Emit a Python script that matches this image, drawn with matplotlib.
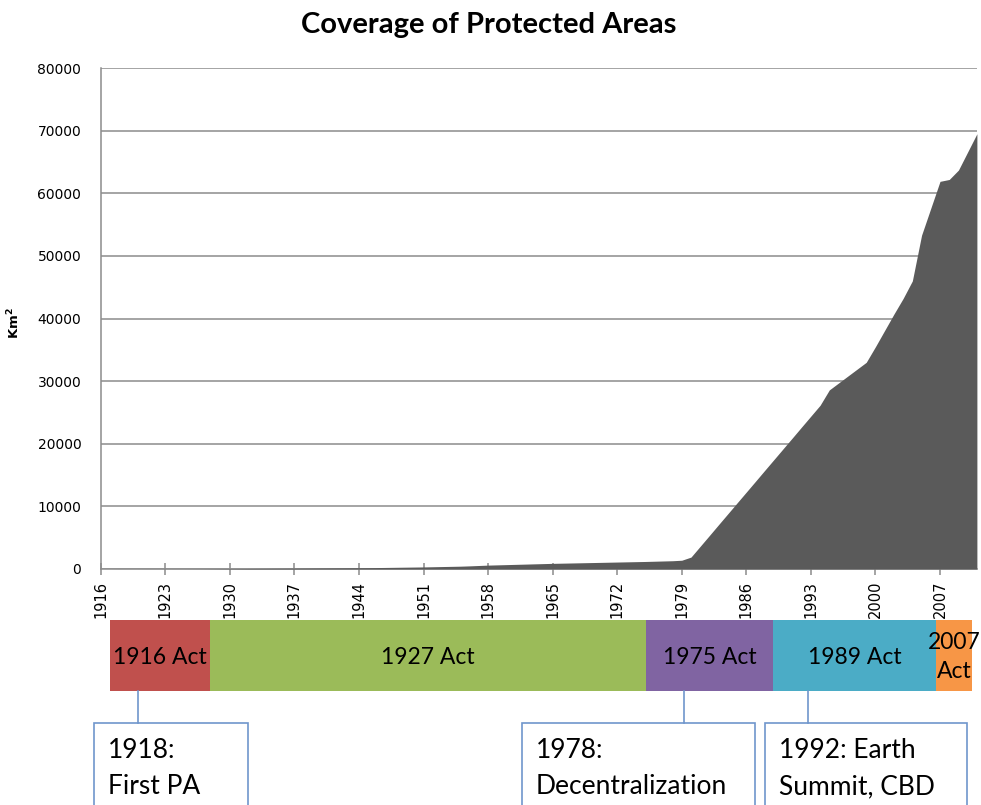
import matplotlib
matplotlib.use('Agg')
import matplotlib.pyplot as plt
from matplotlib.patches import Rectangle

# protected area coverage, km2, one value per year 1916-2011
years = list(range(1916, 2012))
coverage = [0, 0, 10, 10, 10, 15, 15, 15, 20, 20,
            25, 30, 40, 50, 60, 70, 80, 90, 100, 110,
            120, 130, 140, 150, 160, 170, 180, 190, 200, 210,
            230, 250, 270, 290, 310, 330, 360, 390, 420, 450,
            500, 560, 620, 660, 700, 740, 780, 820, 860, 900,
            930, 960, 990, 1020, 1050, 1080, 1110, 1140, 1170, 1200,
            1240, 1280, 1320, 1400, 1900, 3630, 5360, 7100, 8830, 10560,
            12290, 14020, 15760, 17490, 19220, 20950, 22690, 24420, 26150, 28600,
            29700, 30800, 31900, 33000, 35500, 38100, 40700, 43200, 46000, 53300,
            57600, 61900, 62200, 63700, 66600, 69500]
tick_years = list(range(1916, 2008, 7))

# legislation timeline
acts = ['1916 Act', '1927 Act', '1975 Act', '1989 Act', '2007\nAct']
act_start = [1917, 1927.8, 1975.1, 1988.9, 2006.6]
act_end = [1927.8, 1975.1, 1988.9, 2006.6, 2010.5]
act_colors = ['#c0504d', '#9bbb59', '#8064a2', '#4bacc6', '#f79646']

# milestone callouts
events = ['1918:\nFirst PA', '1978:\nDecentralization', '1992: Earth\nSummit, CBD']
event_x = [1920, 1979.2, 1992.7]
box_left = [1915.3, 1961.7, 1988.0]
box_right = [1932.0, 1986.9, 2009.9]

W, H = 981, 805
fig = plt.figure(figsize=(W / 100, H / 100), dpi=100)
ax = fig.add_axes([100.7 / W, 1 - 569 / H, 876.2 / W, 501 / H])

ax.fill_between(years, coverage, 0, color='#5a5a5a', lw=0, zorder=3)
ax.set_xlim(1916, 2011)
ax.set_ylim(0, 80000)
ax.set_yticks(range(0, 80001, 10000))
ax.set_xticks(tick_years)
ax.set_xticklabels([str(y) for y in tick_years], rotation=90, va='top')
ax.grid(axis='y', color='#8c8c8c', lw=1.1, zorder=0)
ax.set_axisbelow(True)
for s in ['top', 'right']:
    ax.spines[s].set_visible(False)
for s in ['left', 'bottom']:
    ax.spines[s].set_color('#8c8c8c')
    ax.spines[s].set_linewidth(1.1)
ax.tick_params(axis='y', length=0, pad=14, labelsize=10, labelcolor='#000000')
ax.tick_params(axis='x', direction='inout', length=9, width=1.1, color='#8c8c8c',
               pad=4, labelsize=10.5)
ax.set_ylabel(r'Km$^\mathbf{2}$', fontsize=9.5, fontweight='bold')
ax.yaxis.set_label_coords(-0.09, 0.49)

fig.text(489 / W, 1 - 25 / H, 'Coverage of Protected Areas', ha='center', va='center',
         fontsize=21, fontweight='bold', family='Lato')

# timeline axes in pixel rows, sharing the year scale
ax2 = fig.add_axes([100.7 / W, 0, 876.2 / W, 205 / H], zorder=5)
ax2.set_xlim(1916, 2011)
ax2.set_ylim(805, 600)
ax2.axis('off')
ax2.patch.set_visible(False)

for name, a, b, c in zip(acts, act_start, act_end, act_colors):
    ax2.add_patch(Rectangle((a, 620), b - a, 71, facecolor=c, edgecolor='none'))
    ax2.text((a + b) / 2, 657, name, ha='center', va='center', fontsize=16.5,
             family='Lato', linespacing=1.45, clip_on=False)

line_col = '#7096cc'
for txt, x, l, r in zip(events, event_x, box_left, box_right):
    ax2.plot([x, x], [691, 723], color=line_col, lw=1.2)
    ax2.add_patch(Rectangle((l, 723), r - l, 120, facecolor='white',
                            edgecolor=line_col, lw=1.2, clip_on=False))
    ax2.annotate(txt, (l, 723), xytext=(10, -11), textcoords='offset points',
                 ha='left', va='top', fontsize=19, family='Lato', linespacing=1.55,
                 annotation_clip=False)

fig.savefig('out.png', dpi=100)
